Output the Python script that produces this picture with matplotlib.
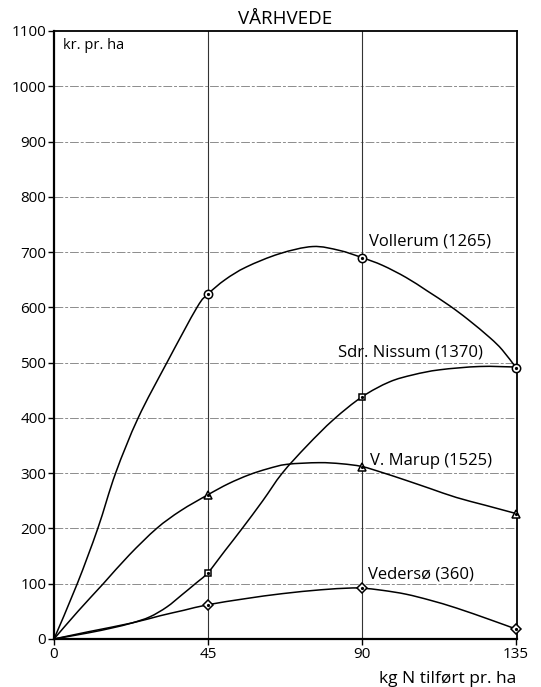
import numpy as np
import matplotlib
matplotlib.use('Agg')
import matplotlib.pyplot as plt
from matplotlib.path import Path
from matplotlib.patches import PathPatch

plt.rcParams['font.family'] = ['Open Sans', 'DejaVu Sans']

# kg N per ha (ticks) and marker values
n_levels = [45, 90, 135]
tick_labels = ['0', '45', '90', '135']

vollerum_pts = [624, 690, 491]
nissum_pts = [120, 438]
marup_pts = [261, 312, 227]
vederso_pts = [62, 92, 18]

# traced curves (x, kr. pr. ha)
vollerum_x = [0, 6.8, 12.8, 18, 24.6, 33, 41.8, 45, 50, 56.2, 65.9, 75.6, 83.4, 90, 96, 102.9, 109, 115.6, 121, 127.4, 131, 135]
vollerum_y = [0, 100, 200, 300, 400, 500, 600, 624, 650, 673, 697, 710, 703, 690, 676, 654, 630, 603, 578, 545, 523, 491]

nissum_x = [0, 10, 17, 22.8, 28, 33, 37.4, 41.3, 45, 50, 55, 61, 66.7, 74, 81.7, 90, 98, 105, 112.7, 124.4, 135]
nissum_y = [0, 11, 20, 29, 40, 58, 80, 100, 120, 160, 200, 250, 300, 350, 397, 438, 465, 478, 487, 493, 492]

marup_x = [0, 7, 14.4, 22, 30, 37, 45, 51, 57, 62.5, 68.1, 77.4, 84, 90, 96, 102.9, 110, 117.6, 126, 135]
marup_y = [0, 50, 100, 152, 200, 232, 261, 281, 297, 308, 316, 319, 317, 312, 301, 287, 272, 256, 242, 227]

vederso_x = [0, 10, 22.8, 31, 38, 45, 56, 66.7, 78, 86, 90, 96, 102.9, 110, 117.6, 127.4, 135]
vederso_y = [0, 13, 29, 42, 52, 62, 73, 82, 89, 92, 92, 88, 81, 70, 56, 35, 18]

labels = ['Vollerum (1265)', 'Sdr. Nissum (1370)', 'V. Marup (1525)', 'Vedersø (360)']
label_x = [92, 83, 92.3, 91.8]
label_y = [711, 511, 315, 110]


def smooth_path(xs, ys):
    """Bezier path through the traced points (Catmull-Rom style handles)"""
    p = np.column_stack([xs, ys]).astype(float)
    verts = [p[0]]
    codes = [Path.MOVETO]
    for i in range(len(p) - 1):
        p0 = p[i - 1] if i > 0 else p[i]
        p3 = p[i + 2] if i + 2 < len(p) else p[i + 1]
        c1 = p[i] + (p[i + 1] - p0) / 6.0
        c2 = p[i + 1] - (p3 - p[i]) / 6.0
        verts += [c1, c2, p[i + 1]]
        codes += [Path.CURVE4] * 3
    return Path(verts, codes)


fig = plt.figure(figsize=(5.41, 6.87), dpi=100)
ax = fig.add_axes([0.0998, 0.0699, 0.8558, 0.885])

ax.set_xlim(0, 135.3)
ax.set_ylim(0, 1100)

for v in range(100, 1100, 100):
    ax.axhline(v, color='0.55', lw=0.7, ls=(0, (9, 2, 3, 2)), zorder=1)
for v in [45, 90]:
    ax.axvline(v, color='0.2', lw=0.8, zorder=1)

curves = [
    (vollerum_x, vollerum_y, vollerum_pts, 'o', 6.0),
    (nissum_x, nissum_y, nissum_pts, 's', 5.0),
    (marup_x, marup_y, marup_pts, '^', 5.5),
    (vederso_x, vederso_y, vederso_pts, 'D', 5.0),
]
for cx, cy, pts, mk, ms in curves:
    ax.add_patch(PathPatch(smooth_path(cx, cy), fc='none', ec='black', lw=1.1, zorder=3))
    px = n_levels[:len(pts)]
    ax.plot(px, pts, ls='none', marker=mk, ms=ms, mfc='white', mec='black',
            mew=1.1, zorder=4, clip_on=False)
    ax.plot(px, pts, ls='none', marker='o', ms=1.3, color='black', zorder=5,
            clip_on=False)

for t, x, y in zip(labels, label_x, label_y):
    ax.text(x, y, t, fontsize=12, ha='left', va='baseline', zorder=6)

ax.text(2.6, 1088, 'kr. pr. ha', fontsize=10.5, ha='left', va='top')
ax.text(135, -80, 'kg N tilført pr. ha', fontsize=12.5, ha='right', va='baseline',
        clip_on=False)
ax.set_title('VÅRHVEDE', fontsize=13.5, pad=5)

ax.set_xticks([0] + n_levels)
ax.set_xticklabels(tick_labels)
ax.set_yticks(range(0, 1200, 100))
ax.tick_params(axis='both', direction='out', length=4, width=1.0, labelsize=11, pad=1.5)

for side in ['left', 'bottom']:
    ax.spines[side].set_linewidth(1.6)
for side in ['top', 'right']:
    ax.spines[side].set_linewidth(1.3)

fig.savefig('out.png', dpi=100)
